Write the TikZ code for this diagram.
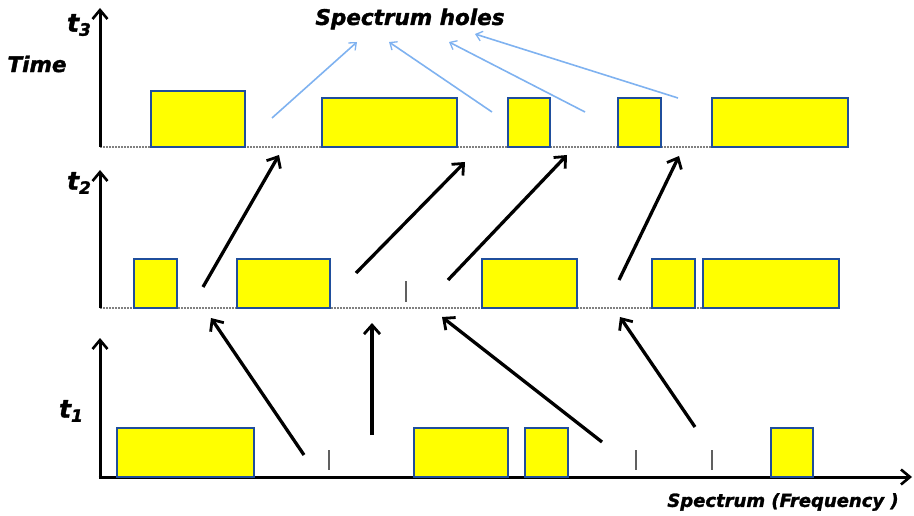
\documentclass[tikz,border=0pt]{standalone}
\usepackage{fontspec}
\setmainfont{DejaVu Sans}
\newfontfamily\lblfont[BoldItalicFeatures={FakeBold=1.6}]{DejaVu Sans}
\usetikzlibrary{arrows.meta}
\definecolor{boxfill}{HTML}{FFFF00}
\definecolor{boxline}{HTML}{1F4E9C}
\definecolor{holeblue}{HTML}{7FB2F0}
\definecolor{tickgray}{HTML}{606060}
\tikzset{
  chan/.style={draw=boxline, fill=boxfill, line width=2.8pt, inner sep=0pt, minimum height=49pt},
  axisline/.style={line width=3pt, -{Straight Barb[length=9pt,width=15pt,line width=2.6pt]}},
  baseline/.style={dash pattern=on 1.6pt off 1.4pt, line width=1.3pt, draw=gray},
  move/.style={line width=3.3pt, -{Straight Barb[length=9pt,width=16pt,line width=2.8pt]}},
  hole/.style={draw=holeblue, line width=1.6pt, -{Straight Barb[length=6pt,width=10pt,line width=1.3pt]}},
  tick/.style={draw=tickgray, line width=1.5pt},
  lbl/.style={font=\lblfont\bfseries\itshape\fontsize{21.5}{24}\selectfont, inner sep=0pt},
}
\newcommand{\tsub}[1]{\fontsize{25}{28}\selectfont t\raisebox{-0.3ex}{\fontsize{17}{18}\selectfont #1}}
\begin{document}
\begin{tikzpicture}[x=1pt,y=-1pt]
\useasboundingbox (0,0) rectangle (914,516);
% axes
\coordinate (o3) at (100,147); \coordinate (top3) at (100,8); \coordinate (e3) at (848,147);
\coordinate (o2) at (100,308); \coordinate (top2) at (100,170); \coordinate (e2) at (839,308);
\coordinate (o1) at (100,477); \coordinate (top1) at (100,338); \coordinate (e1) at (912,477);
\draw[baseline] (o3) -- (e3);
\draw[baseline] (o2) -- (e2);
\draw[axisline] (o3) -- (top3);
\draw[axisline] (o2) -- (top2);
\draw[axisline] (o1) -- (top1);
\draw[axisline] ([xshift=-1.5pt]o1) -- (e1);
% t3 channels
\node[chan, minimum width=94pt, minimum height=56pt] (b31) at (198,119) {};
\node[chan, minimum width=135pt] (b32) at (389.5,122.5) {};
\node[chan, minimum width=42pt] (b33) at (529,122.5) {};
\node[chan, minimum width=43pt] (b34) at (639.5,122.5) {};
\node[chan, minimum width=136pt] (b35) at (780,122.5) {};
% t2 channels
\node[chan, minimum width=43pt] (b21) at (155.5,283.5) {};
\node[chan, minimum width=93pt] (b22) at (283.5,283.5) {};
\node[chan, minimum width=95pt] (b23) at (529.5,283.5) {};
\node[chan, minimum width=43pt] (b24) at (673.5,283.5) {};
\node[chan, minimum width=136pt] (b25) at (771,283.5) {};
% t1 channels
\node[chan, minimum width=137pt] (b11) at (185.5,452.5) {};
\node[chan, minimum width=94pt] (b12) at (461,452.5) {};
\node[chan, minimum width=43pt] (b13) at (546.5,452.5) {};
\node[chan, minimum width=42pt] (b14) at (792,452.5) {};
% ticks
\coordinate (k2a) at (406,281); \coordinate (k2b) at (406,302);
\coordinate (k1a) at (329,450); \coordinate (k1b) at (329,470);
\coordinate (k1c) at (636,450); \coordinate (k1d) at (636,470);
\coordinate (k1e) at (712,450); \coordinate (k1f) at (712,470);
\draw[tick] (k2a) -- (k2b);
\draw[tick] (k1a) -- (k1b);
\draw[tick] (k1c) -- (k1d);
\draw[tick] (k1e) -- (k1f);
% labels
\node[lbl] (t3) at (79,25) {\tsub{3}};
\node[lbl] (t2) at (79,183) {\tsub{2}};
\node[lbl] (t1) at (71,411) {\tsub{1}};
\node[lbl] (time) at (37,64) {Time};
\node[lbl] (holes) at (410,19) {Spectrum holes};
\node[lbl, font=\lblfont\bfseries\itshape\fontsize{18}{20}\selectfont] (freq) at (783,502) {Spectrum (Frequency )};
% spectrum hole pointers
\coordinate (h1s) at (272,118); \coordinate (h1e) at (357,42);
\coordinate (h2s) at (492,112); \coordinate (h2e) at (389,42);
\coordinate (h3s) at (585,112); \coordinate (h3e) at (449,42);
\coordinate (h4s) at (678,98);  \coordinate (h4e) at (475,34);
\draw[hole] (h1s) -- (h1e);
\draw[hole] (h2s) -- (h2e);
\draw[hole] (h3s) -- (h3e);
\draw[hole] (h4s) -- (h4e);
% moves t2 -> t3
\coordinate (a1s) at (203,287); \coordinate (a1e) at (279,155);
\coordinate (a2s) at (356,273); \coordinate (a2e) at (465,162);
\coordinate (a3s) at (448,280); \coordinate (a3e) at (567,155);
\coordinate (a4s) at (619,280); \coordinate (a4e) at (679,156);
\draw[move] (a1s) -- (a1e);
\draw[move] (a2s) -- (a2e);
\draw[move] (a3s) -- (a3e);
\draw[move] (a4s) -- (a4e);
% moves t1 -> t2
\coordinate (c1s) at (304,455); \coordinate (c1e) at (211,318);
\coordinate (c2s) at (372,435); \coordinate (c2e) at (372,323);
\coordinate (c3s) at (602,442); \coordinate (c3e) at (442,317);
\coordinate (c4s) at (695,427); \coordinate (c4e) at (620,317);
\draw[move] (c1s) -- (c1e);
\draw[move] (c2s) -- (c2e);
\draw[move] (c3s) -- (c3e);
\draw[move] (c4s) -- (c4e);
\end{tikzpicture}
\end{document}
